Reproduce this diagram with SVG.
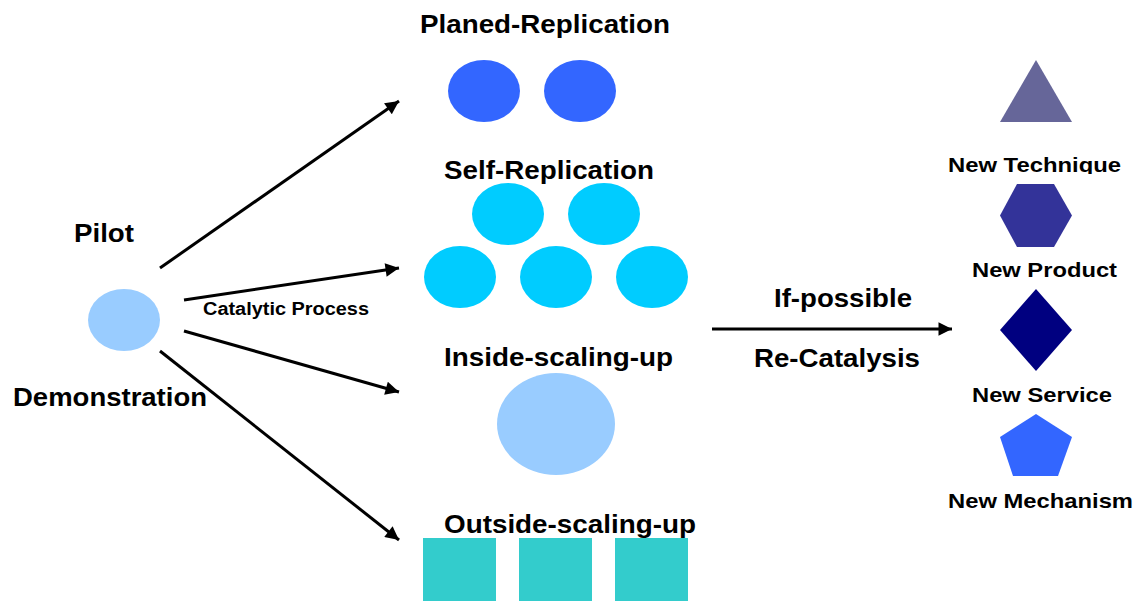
<svg xmlns="http://www.w3.org/2000/svg" width="1139" height="601" viewBox="0 0 1139 601">
  <style>
    .big { font-family: "Liberation Sans", Arial, sans-serif; font-weight: bold; font-size: 25px; fill: #000; }
    .mid { font-family: "Liberation Sans", Arial, sans-serif; font-weight: bold; font-size: 21px; fill: #000; }
    .small { font-family: "Liberation Sans", Arial, sans-serif; font-weight: bold; font-size: 18px; fill: #000; }
    .conn { stroke: #000; stroke-width: 3; fill: none; marker-end: url(#arrow); }
  </style>
  <defs>
    <marker id="arrow" viewBox="0 0 10 10" refX="10" refY="5" markerWidth="5.5" markerHeight="4.5" orient="auto" markerUnits="strokeWidth">
      <path d="M0,0 L10,5 L0,10 Z" fill="#000"/>
    </marker>
    <clipPath id="clipTech">
      <rect x="940" y="140" width="199" height="34"/>
    </clipPath>
  </defs>
  <rect width="1139" height="601" fill="#fff"/>

  <!-- connectors -->
  <g id="connectors">
    <line class="conn" x1="160" y1="268" x2="399" y2="101"/>
    <line class="conn" x1="184" y1="300" x2="399" y2="268"/>
    <line class="conn" x1="184" y1="331" x2="399" y2="392"/>
    <line class="conn" x1="160" y1="351" x2="399" y2="540"/>
    <line class="conn" x1="712" y1="329" x2="952" y2="329"/>
    <text class="small" x="203" y="315" textLength="166" lengthAdjust="spacingAndGlyphs">Catalytic Process</text>
    <text class="big" x="774" y="307" textLength="138" lengthAdjust="spacingAndGlyphs">If-possible</text>
    <text class="big" x="754" y="367" textLength="166" lengthAdjust="spacingAndGlyphs">Re-Catalysis</text>
  </g>

  <!-- pilot / demonstration -->
  <g id="pilot">
    <ellipse cx="124" cy="320" rx="36" ry="31" fill="#99CCFF"/>
    <text class="big" x="74" y="242" textLength="60" lengthAdjust="spacingAndGlyphs">Pilot</text>
    <text class="big" x="13" y="406" textLength="194" lengthAdjust="spacingAndGlyphs">Demonstration</text>
  </g>

  <!-- planned replication -->
  <g id="planed-replication">
    <text class="big" x="420" y="33" textLength="250" lengthAdjust="spacingAndGlyphs">Planed-Replication</text>
    <ellipse cx="484" cy="91" rx="36" ry="31" fill="#3366FF"/>
    <ellipse cx="580" cy="91" rx="36" ry="31" fill="#3366FF"/>
  </g>

  <!-- self replication -->
  <g id="self-replication">
    <text class="big" x="444" y="179" textLength="210" lengthAdjust="spacingAndGlyphs">Self-Replication</text>
    <ellipse cx="508" cy="214" rx="36" ry="31" fill="#00CCFF"/>
    <ellipse cx="604" cy="214" rx="36" ry="31" fill="#00CCFF"/>
    <ellipse cx="460" cy="277" rx="36" ry="31" fill="#00CCFF"/>
    <ellipse cx="556" cy="277" rx="36" ry="31" fill="#00CCFF"/>
    <ellipse cx="652" cy="277" rx="36" ry="31" fill="#00CCFF"/>
  </g>

  <!-- inside scaling up -->
  <g id="inside-scaling-up">
    <text class="big" x="444" y="366" textLength="229" lengthAdjust="spacingAndGlyphs">Inside-scaling-up</text>
    <ellipse cx="556" cy="424" rx="59" ry="51" fill="#99CCFF"/>
  </g>

  <!-- outside scaling up -->
  <g id="outside-scaling-up">
    <rect x="423" y="538" width="73" height="63" fill="#33CCCC"/>
    <rect x="519" y="538" width="73" height="63" fill="#33CCCC"/>
    <rect x="615" y="538" width="73" height="63" fill="#33CCCC"/>
    <text class="big" x="444" y="533" textLength="252" lengthAdjust="spacingAndGlyphs">Outside-scaling-up</text>
  </g>

  <!-- outcomes -->
  <g id="new-technique">
    <polygon points="1036,60 1072,122 1000,122" fill="#666699"/>
    <text class="mid" x="948" y="172" textLength="173" lengthAdjust="spacingAndGlyphs" clip-path="url(#clipTech)">New Technique</text>
  </g>
  <g id="new-product">
    <polygon points="1017,184 1054,184 1072,215.5 1054,247 1017,247 1000,215.5" fill="#333399"/>
    <text class="mid" x="972" y="277" textLength="145" lengthAdjust="spacingAndGlyphs">New Product</text>
  </g>
  <g id="new-service">
    <polygon points="1036,289 1072,330 1036,371 1000,330" fill="#000080"/>
    <text class="mid" x="972" y="402" textLength="140" lengthAdjust="spacingAndGlyphs">New Service</text>
  </g>
  <g id="new-mechanism">
    <polygon points="1036,414 1072,437 1058,476 1013,476 1000,437" fill="#3366FF"/>
    <text class="mid" x="948" y="508" textLength="185" lengthAdjust="spacingAndGlyphs">New Mechanism</text>
  </g>
</svg>
